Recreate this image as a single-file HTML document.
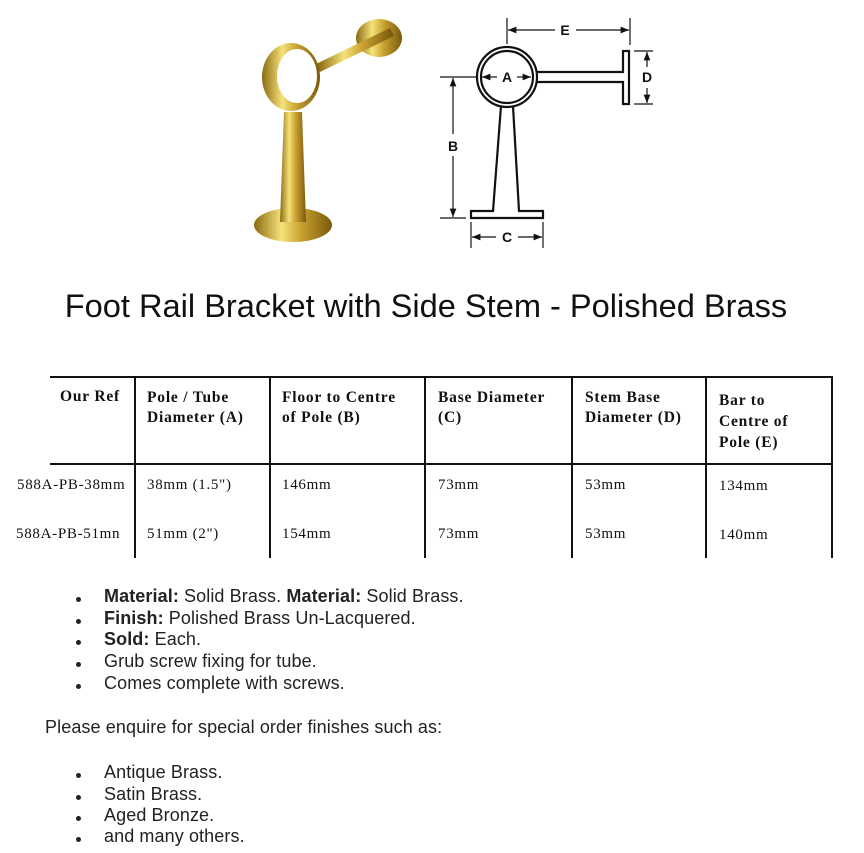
<!DOCTYPE html>
<html><head><meta charset="utf-8"><style>
html,body{margin:0;padding:0;background:#fff;}
body{width:864px;height:853px;position:relative;overflow:hidden;font-family:"Liberation Sans",sans-serif;}
.t{position:absolute;white-space:nowrap;}
.s{font-family:"Liberation Serif",serif;font-size:15px;color:#111;letter-spacing:0.7px;}
.h{font-weight:bold;line-height:20px;font-size:15.5px;letter-spacing:0.8px;}
.l{font-size:18px;color:#222;letter-spacing:0.1px;}
.b{position:absolute;left:76px;width:5px;height:5px;border-radius:50%;background:#222;}
.ln{position:absolute;background:#111;}
</style></head><body>
<svg width="864" height="260" style="position:absolute;left:0;top:0">
<defs>
<linearGradient id="g" x1="0" x2="1"><stop offset="0" stop-color="#8a6a10"/><stop offset="0.35" stop-color="#f6e27a"/><stop offset="0.6" stop-color="#c9a230"/><stop offset="1" stop-color="#7a5a0c"/></linearGradient>
<marker id="a" viewBox="0 0 10 10" refX="10" refY="5" markerWidth="7" markerHeight="7" orient="auto-start-reverse"><path d="M0,1 L10,5 L0,9 z" fill="#111"/></marker>
</defs>
<ellipse cx="379" cy="38" rx="23" ry="19" fill="url(#g)"/>
<line x1="318" y1="68" x2="392" y2="32" stroke="url(#g)" stroke-width="9"/>
<ellipse cx="293" cy="225" rx="39" ry="17" fill="url(#g)"/>
<path d="M284,112 L302,112 L306,222 L280,222 z" fill="url(#g)"/>
<ellipse cx="291" cy="77" rx="29" ry="34" fill="url(#g)"/>
<ellipse cx="297" cy="76" rx="20" ry="27" fill="#fff"/>
<g stroke="#111" fill="none" stroke-width="2.2">
<circle cx="507" cy="77" r="30"/>
<circle cx="507" cy="77" r="26"/>
<path d="M537,72 L623,72 L623,51 L629,51 L629,104 L623,104 L623,82 L537,82"/>
<path d="M501,106 L493,211 L471,211 L471,218 L543,218 L543,211 L519,211 L513,106"/>
</g>
<g stroke="#111" stroke-width="1.2" fill="none">
<line x1="507" y1="18" x2="507" y2="44"/><line x1="630" y1="18" x2="630" y2="45"/>
<line x1="508" y1="30" x2="555" y2="30" marker-start="url(#a)"/><line x1="576" y1="30" x2="629" y2="30" marker-end="url(#a)"/>
<line x1="634" y1="51" x2="653" y2="51"/><line x1="634" y1="104" x2="653" y2="104"/>
<line x1="647" y1="52" x2="647" y2="67" marker-start="url(#a)"/><line x1="647" y1="88" x2="647" y2="103" marker-end="url(#a)"/>
<line x1="440" y1="77" x2="477" y2="77"/><line x1="440" y1="218" x2="466" y2="218"/>
<line x1="453" y1="78" x2="453" y2="134" marker-start="url(#a)"/><line x1="453" y1="156" x2="453" y2="217" marker-end="url(#a)"/>
<line x1="471" y1="222" x2="471" y2="248"/><line x1="543" y1="222" x2="543" y2="248"/>
<line x1="472" y1="237" x2="496" y2="237" marker-start="url(#a)"/><line x1="518" y1="237" x2="542" y2="237" marker-end="url(#a)"/>
<line x1="482" y1="77" x2="497" y2="77" marker-start="url(#a)"/><line x1="517" y1="77" x2="531" y2="77" marker-end="url(#a)"/>
</g>
<g font-family="Liberation Sans" font-weight="bold" font-size="14" fill="#111" text-anchor="middle">
<text x="507" y="82">A</text><text x="565" y="35">E</text><text x="647" y="82">D</text><text x="453" y="151">B</text><text x="507" y="242">C</text>
</g>
</svg>
<div class="t" style="left:0;width:852px;text-align:center;top:287px;font-size:32.6px;color:#111;">Foot Rail Bracket with Side Stem - Polished Brass</div>
<div class="ln" style="left:50px;top:376px;width:783px;height:2px"></div>
<div class="ln" style="left:50px;top:463px;width:783px;height:2px"></div>
<div class="ln" style="left:134px;top:376px;width:1.5px;height:182px"></div>
<div class="ln" style="left:269px;top:376px;width:1.5px;height:182px"></div>
<div class="ln" style="left:424px;top:376px;width:1.5px;height:182px"></div>
<div class="ln" style="left:571px;top:376px;width:1.5px;height:182px"></div>
<div class="ln" style="left:705px;top:376px;width:1.5px;height:182px"></div>
<div class="ln" style="left:831px;top:376px;width:2px;height:182px"></div>
<div class="t s h" style="left:60px;top:387px">Our Ref</div>
<div class="t s h" style="left:147px;top:388px">Pole / Tube<br>Diameter (A)</div>
<div class="t s h" style="left:282px;top:388px">Floor to Centre<br>of Pole (B)</div>
<div class="t s h" style="left:438px;top:388px">Base Diameter<br>(C)</div>
<div class="t s h" style="left:585px;top:388px">Stem Base<br>Diameter (D)</div>
<div class="t s h" style="left:719px;top:390px;line-height:21px">Bar to<br>Centre of<br>Pole (E)</div>
<div class="t s" style="left:17px;top:477px">588A-PB-38mm</div>
<div class="t s" style="left:147px;top:477px">38mm (1.5")</div>
<div class="t s" style="left:282px;top:477px">146mm</div>
<div class="t s" style="left:438px;top:477px">73mm</div>
<div class="t s" style="left:585px;top:477px">53mm</div>
<div class="t s" style="left:719px;top:478px">134mm</div>
<div class="t s" style="left:16px;top:526px">588A-PB-51mn</div>
<div class="t s" style="left:147px;top:526px">51mm (2")</div>
<div class="t s" style="left:282px;top:526px">154mm</div>
<div class="t s" style="left:438px;top:526px">73mm</div>
<div class="t s" style="left:585px;top:526px">53mm</div>
<div class="t s" style="left:719px;top:527px">140mm</div>
<div class="b" style="top:597px"></div><div class="t l" style="left:104px;top:586px"><b>Material:</b> Solid Brass. <b>Material:</b> Solid Brass.</div>
<div class="b" style="top:619px"></div><div class="t l" style="left:104px;top:608px"><b>Finish:</b> Polished Brass Un-Lacquered.</div>
<div class="b" style="top:640px"></div><div class="t l" style="left:104px;top:629px"><b>Sold:</b> Each.</div>
<div class="b" style="top:662px"></div><div class="t l" style="left:104px;top:651px">Grub screw fixing for tube.</div>
<div class="b" style="top:684px"></div><div class="t l" style="left:104px;top:673px">Comes complete with screws.</div>
<div class="t l" style="left:45px;top:717px">Please enquire for special order finishes such as:</div>
<div class="b" style="top:773px"></div><div class="t l" style="left:104px;top:762px">Antique Brass.</div>
<div class="b" style="top:795px"></div><div class="t l" style="left:104px;top:784px">Satin Brass.</div>
<div class="b" style="top:816px"></div><div class="t l" style="left:104px;top:805px">Aged Bronze.</div>
<div class="b" style="top:837px"></div><div class="t l" style="left:104px;top:826px">and many others.</div>
</body></html>
